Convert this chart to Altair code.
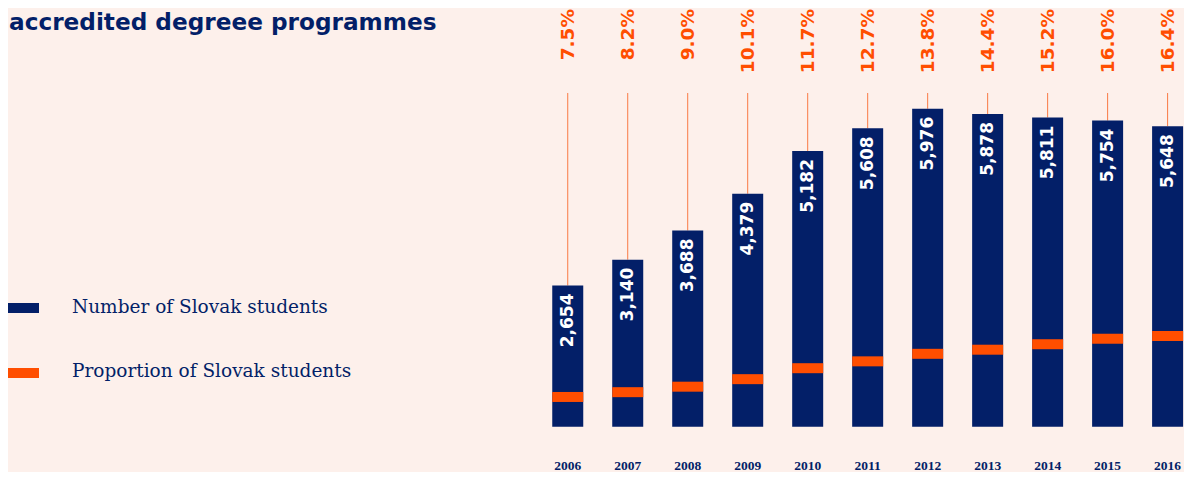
import altair as alt
import pandas as pd

# ---- data ----
years = [2006, 2007, 2008, 2009, 2010, 2011, 2012, 2013, 2014, 2015, 2016]
students = [2654, 3140, 3688, 4379, 5182, 5608, 5976, 5878, 5811, 5754, 5648]
share = [7.5, 8.2, 9.0, 10.1, 11.7, 12.7, 13.8, 14.4, 15.2, 16.0, 16.4]
legend_labels = ["Number of Slovak students", "Proportion of Slovak students"]
title_text = "accredited degreee programmes"

NAVY = "#031f68"
ORANGE = "#ff4e00"
LINE_ORANGE = "#f97a45"
BG = "#fdf0eb"

df = pd.DataFrame({"year": years, "students": students, "share": share})
df["students_label"] = [f"{v:,}" for v in students]
df["share_label"] = [f"{v:.1f}%" for v in share]
df["year_label"] = [str(y) for y in years]

W, H = 1176, 464

# x: 2006 centred at 559.5 px, 60.5 px per year
xs = alt.Scale(domain=[1996.752, 1996.752 + W / 60.5], nice=False, zero=False)
ys = alt.Scale(domain=[-851.5, 7870.3], nice=False, zero=False)
ps = alt.Scale(domain=[-3.453, 64.28], nice=False, zero=False)

base = alt.Chart(df).encode(x=alt.X("year:Q", scale=xs, axis=None))

rules = base.mark_rule(color=LINE_ORANGE, strokeWidth=1).encode(
    y=alt.Y("students:Q", scale=ys, axis=None),
    y2=alt.value(85),
)

bars = base.mark_bar(size=31, color=NAVY).encode(
    y=alt.Y("students:Q", scale=ys, axis=None),
    y2=alt.datum(0),
)

bars_labels = base.mark_text(
    angle=270, align="right", baseline="middle", dx=-8,
    font="DejaVu Sans", fontWeight="bold", fontSize=17, color="white",
).encode(
    y=alt.Y("students:Q", scale=ys, axis=None),
    text="students_label:N",
)

pct_labels = base.mark_text(
    angle=270, align="right", baseline="middle", dx=-1,
    font="DejaVu Sans", fontWeight="bold", fontSize=18.5, color=ORANGE,
).encode(
    y=alt.value(0),
    text="share_label:N",
)

year_labels = base.mark_text(
    baseline="middle", font="Liberation Serif", fontWeight="bold",
    fontSize=13.5, color=NAVY,
).encode(
    y=alt.value(458),
    text="year_label:N",
)

band = base.mark_tick(
    orient="horizontal", size=31, thickness=10, color=ORANGE, opacity=1,
).encode(
    y=alt.Y("share:Q", scale=ps, axis=None),
)

title = alt.Chart(pd.DataFrame({"t": [title_text]})).mark_text(
    align="left", baseline="alphabetic", font="DejaVu Sans",
    fontWeight="bold", fontSize=23.2, color=NAVY,
).encode(x=alt.value(1), y=alt.value(21.5), text="t:N")

leg1_df = pd.DataFrame({"label": [legend_labels[0]]})
leg2_df = pd.DataFrame({"label": [legend_labels[1]]})

leg1_rect = alt.Chart(leg1_df).mark_rect(color=NAVY).encode(
    x=alt.value(0), x2=alt.value(31), y=alt.value(295), y2=alt.value(305))
leg2_rect = alt.Chart(leg2_df).mark_rect(color=ORANGE).encode(
    x=alt.value(0), x2=alt.value(31), y=alt.value(360), y2=alt.value(370))

leg_text_style = dict(align="left", baseline="alphabetic", font="DejaVu Serif",
                      fontSize=18.5, color=NAVY)
leg1_text = alt.Chart(leg1_df).mark_text(**leg_text_style).encode(
    x=alt.value(64), y=alt.value(305), text="label:N")
leg2_text = alt.Chart(leg2_df).mark_text(**leg_text_style).encode(
    x=alt.value(64), y=alt.value(369), text="label:N")

chart = alt.layer(
    rules, bars, band, bars_labels, pct_labels, year_labels,
    title, leg1_rect, leg2_rect, leg1_text, leg2_text,
).resolve_scale(y="independent").properties(
    width=W, height=H, padding=0,
    autosize=alt.AutoSizeParams(type="none"),
    background=BG,
).configure_view(stroke=None)

chart.save("out.html", embed_options={"renderer": "svg", "actions": False})
